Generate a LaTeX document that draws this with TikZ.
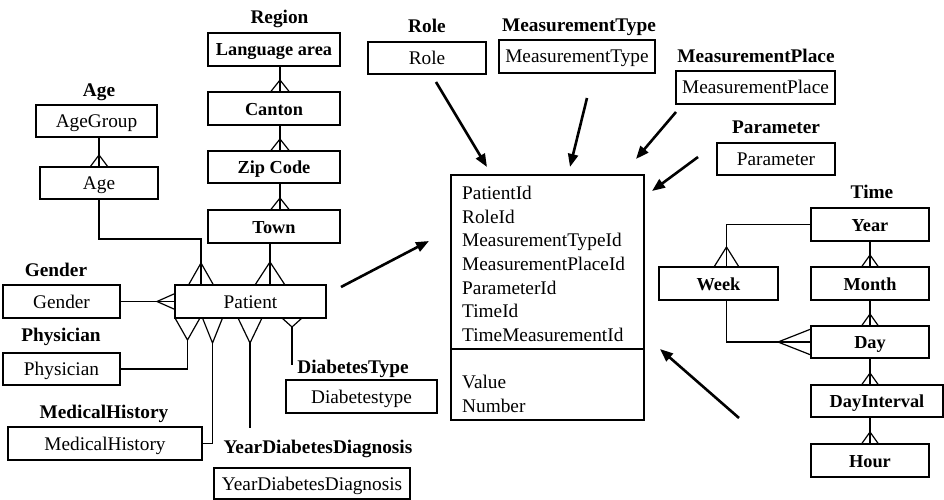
\documentclass[tikz,border=0pt]{standalone}
\usepackage{fontspec}
\setmainfont{Liberation Serif}
\usetikzlibrary{arrows.meta}
\begin{document}
\begin{tikzpicture}[x=1pt,y=-1pt,
  every node/.style={font=\fontsize{19.3}{23.7}\selectfont, text height=13pt, text depth=0pt, inner sep=0pt},
  box/.style={draw, line width=1.25pt, minimum height=33pt},
  boldbox/.style={box, font=\fontsize{18.3}{22}\selectfont\bfseries},
  title/.style={font=\fontsize{19.3}{23.7}\selectfont\bfseries},
  conn/.style={line width=1.2pt},
  arr/.style={line width=2.6pt, -{Triangle[length=13pt,width=10pt]}},
  pics/foot/.style 2 args={code={\draw[conn] (-#1,#2) -- (0,0) -- (#1,#2);}},
  pics/footh/.style 2 args={code={\draw[conn] (#2,-#1) -- (0,0) -- (#2,#1);}},
]
\useasboundingbox (0,0) rectangle (944,500);

% titles
\node[title] (tRegion) at (279.5,17) {Region};
\node[title] (tAge) at (99,90) {Age};
\node[title] (tGender) at (56,270) {Gender};
\node[title] (tPhys) at (61,335) {Physician};
\node[title] (tMed) at (104,412) {MedicalHistory};
\node[title] (tYDD) at (318,447) {YearDiabetesDiagnosis};
\node[title] (tDiab) at (353,367) {DiabetesType};
\node[title] (tRole) at (427,26) {Role};
\node[title] (tMType) at (579,25) {MeasurementType};
\node[title] (tMPlace) at (756,56) {MeasurementPlace};
\node[title] (tParam) at (776,127) {Parameter};
\node[title] (tTime) at (872,192) {Time};

% region hierarchy
\node[boldbox, minimum width=132pt] (lang) at (274,49.5) {Language area};
\node[boldbox, minimum width=132pt] (canton) at (274,108.5) {Canton};
\node[boldbox, minimum width=132pt, minimum height=32pt] (zip) at (274,167) {Zip Code};
\node[boldbox, minimum width=132pt] (town) at (274,226.5) {Town};

% age
\node[box, minimum width=121pt, minimum height=32pt] (agegroup) at (96.5,121) {AgeGroup};
\node[box, minimum width=118pt, minimum height=32pt] (age) at (99,183) {Age};

% patient and its dimensions
\node[box, minimum width=117pt] (gender) at (61.5,301.5) {Gender};
\node[box, minimum width=151pt] (patient) at (250.5,301.5) {Patient};
\node[box, minimum width=117pt, minimum height=32pt] (physician) at (61.5,369) {Physician};
\node[box, minimum width=194pt] (medhist) at (105,443.5) {MedicalHistory};
\node[box, minimum width=196pt, minimum height=31pt] (ydd) at (312,483.5) {YearDiabetesDiagnosis};
\node[box, minimum width=151pt] (diab) at (361.5,396.5) {Diabetestype};

% other dimensions
\node[box, minimum width=118pt, minimum height=32pt] (role) at (427,58) {Role};
\node[box, minimum width=156pt] (mtype) at (577,56.5) {MeasurementType};
\node[box, minimum width=159pt] (mplace) at (755.5,87.5) {MeasurementPlace};
\node[box, minimum width=118pt, minimum height=32pt] (param) at (776,159) {Parameter};

% time hierarchy
\node[boldbox, minimum width=118pt] (year) at (870,224.5) {Year};
\node[boldbox, minimum width=119pt] (week) at (718.5,283.5) {Week};
\node[boldbox, minimum width=118pt] (month) at (870,283.5) {Month};
\node[boldbox, minimum width=118pt, minimum height=32pt] (day) at (870,342) {Day};
\node[boldbox, minimum width=132pt, minimum height=32pt] (dayint) at (877,401) {DayInterval};
\node[boldbox, minimum width=118pt] (hour) at (870,460.5) {Hour};

% fact table
\node[draw, line width=1.25pt, minimum width=193pt, minimum height=245pt] (fact) at (547.5,297.5) {};
\coordinate (sep) at (0,349);
\draw[line width=1.25pt] (fact.west |- sep) -- (fact.east |- sep);
\node[anchor=west] (f1) at (462,193) {PatientId};
\node[anchor=west] (f2) at (462,216.7) {RoleId};
\node[anchor=west] (f3) at (462,240.3) {MeasurementTypeId};
\node[anchor=west] (f4) at (462,264) {MeasurementPlaceId};
\node[anchor=west] (f5) at (462,287.7) {ParameterId};
\node[anchor=west] (f6) at (462,311.3) {TimeId};
\node[anchor=west] (f7) at (462,335) {TimeMeasurementId};
\node[anchor=west] (f8) at (462,382) {Value};
\node[anchor=west] (f9) at (462,406) {Number};

% region connectors
\coordinate (rx) at (280,0);
\draw[conn] (lang.south -| rx) -- (canton.north -| rx);
\draw[conn] (canton.south -| rx) -- (zip.north -| rx);
\draw[conn] (zip.south -| rx) -- (town.north -| rx);
\pic at (280,80) {foot={9.5}{12}};
\pic at (280,139) {foot={9.5}{12}};
\pic at (280,198) {foot={9.5}{12}};

% age connectors
\coordinate (ax) at (99,0);
\draw[conn] (agegroup.south -| ax) -- (age.north -| ax);
\pic at (99,155) {foot={9}{12}};
\coordinate (ajoint) at (201,239);
\draw[conn] (age.south -| ax) -- (ax |- ajoint) -- (ajoint) -- (ajoint |- patient.north);
\pic at (201,263) {foot={12.5}{22}};

% town -> patient
\coordinate (tx) at (270,0);
\draw[conn] (town.south -| tx) -- (patient.north -| tx);
\pic at (270,262) {foot={15}{23}};

% gender -> patient
\draw[conn] (gender.east) -- (patient.west);
\pic at (157,301.5) {footh={8}{18}};

% patient -> physician
\coordinate (phA) at (187.5,340);
\pic at (phA) {foot={12.5}{-22}};
\draw[conn] (phA) |- (physician.east);

% patient -> medical history
\coordinate (mhA) at (212.5,343);
\pic at (mhA) {foot={10}{-25}};
\draw[conn] (mhA) |- (medhist.east);

% patient -> year diabetes diagnosis
\coordinate (ydA) at (250,343);
\coordinate (ydE) at (250,428);
\pic at (ydA) {foot={12}{-25}};
\draw[conn] (ydA) -- (ydE);

% patient -> diabetes type
\coordinate (dtA) at (292,327);
\coordinate (dtE) at (292,365);
\pic at (dtA) {foot={10}{-9}};
\draw[conn] (dtA) -- (dtE);

% time connectors
\coordinate (wx) at (726.5,0);
\draw[conn] (year.west) -| (week.north -| wx);
\pic at (726.5,247) {foot={12.5}{20}};
\draw[conn] (week.south -| wx) |- (day.west);
\pic at (778,342) {footh={13}{33}};
\coordinate (yx) at (870,0);
\draw[conn] (year.south -| yx) -- (month.north -| yx);
\draw[conn] (month.south -| yx) -- (day.north -| yx);
\draw[conn] (day.south -| yx) -- (dayint.north -| yx);
\draw[conn] (dayint.south -| yx) -- (hour.north -| yx);
\pic at (870,255) {foot={8.5}{12}};
\pic at (870,314) {foot={8.5}{12}};
\pic at (870,373) {foot={8.5}{12}};
\pic at (870,432) {foot={8.5}{12}};

% arrows into the fact table
\coordinate (aRoleS) at (436,82);   \coordinate (aRoleE) at (487,167);
\coordinate (aMTS) at (587,98);     \coordinate (aMTE) at (570,167);
\coordinate (aMPS) at (676,112);    \coordinate (aMPE) at (636,159);
\coordinate (aPaS) at (698,157);    \coordinate (aPaE) at (652,191);
\coordinate (aPtS) at (341,287);    \coordinate (aPtE) at (429,241);
\coordinate (aTiS) at (739,418);    \coordinate (aTiE) at (660,349);
\draw[arr] (aRoleS) -- (aRoleE);
\draw[arr] (aMTS) -- (aMTE);
\draw[arr] (aMPS) -- (aMPE);
\draw[arr] (aPaS) -- (aPaE);
\draw[arr] (aPtS) -- (aPtE);
\draw[arr] (aTiS) -- (aTiE);
\end{tikzpicture}
\end{document}
